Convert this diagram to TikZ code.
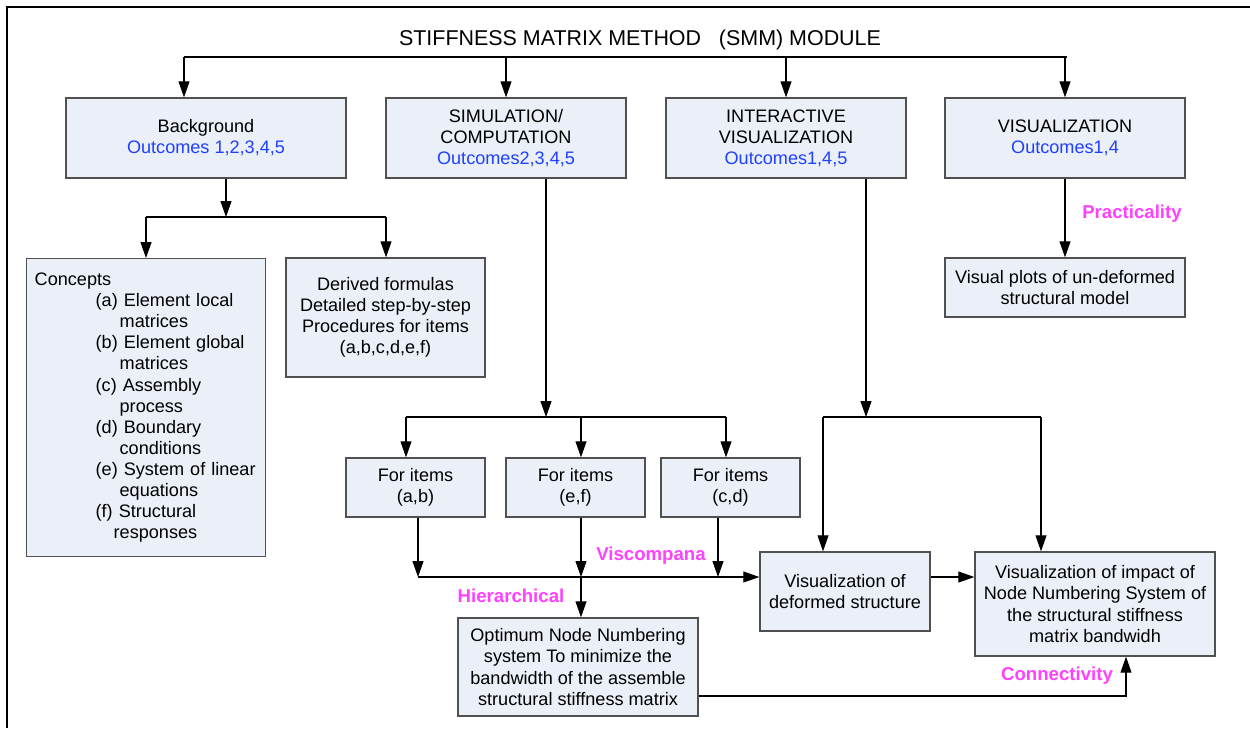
\documentclass[tikz,border=0pt]{standalone}
\usepackage{fontspec}
\setmainfont{Liberation Sans}
\usetikzlibrary{arrows.meta}
\definecolor{boxfill}{RGB}{234,239,248}
\definecolor{boxline}{RGB}{80,80,80}
\definecolor{outblue}{RGB}{32,64,255}
\definecolor{tagpink}{RGB}{255,64,255}
\tikzstyle{block} = [rectangle, draw=boxline, line width=0.8pt, fill=boxfill,
    align=center, inner sep=2pt, font=\fontsize{10.3}{12}\selectfont]
\tikzstyle{line} = [draw, line width=0.6pt, -{Triangle[length=0.32cm,width=0.22cm]}]
\tikzstyle{wire} = [draw, line width=0.6pt]
\tikzstyle{tag} = [text=tagpink, font=\fontsize{10.6}{12}\selectfont\bfseries]
\newcommand{\outc}[1]{\textcolor{outblue}{#1}}

\begin{document}
\begin{tikzpicture}[x=0.02cm, y=-0.02cm]
  \useasboundingbox (0,0) rectangle (1250,728);
  \draw[line width=1.1pt] (1250,7) -- (7,7) -- (7,728);
   % Place nodes
    \node [font=\fontsize{12.2}{14}\selectfont] (title) at (640,40) {STIFFNESS MATRIX METHOD\ \ \ (SMM) MODULE};
    \node [block, minimum width=5.6cm, minimum height=1.6cm] (bg) at (206,138) {Background\\\outc{Outcomes 1,2,3,4,5}};
    \node [block, minimum width=4.8cm, minimum height=1.6cm] (sim) at (506,138) {SIMULATION/\\COMPUTATION\\\outc{Outcomes2,3,4,5}};
    \node [block, minimum width=4.8cm, minimum height=1.6cm] (inter) at (786,138) {INTERACTIVE\\VISUALIZATION\\\outc{Outcomes1,4,5}};
    \node [block, minimum width=4.8cm, minimum height=1.6cm] (vis) at (1065,138) {VISUALIZATION\\\outc{Outcomes1,4}};
    \node [block, minimum width=4.8cm, minimum height=1.18cm] (plots) at (1065,287.5) {Visual plots of un-deformed\\structural model};
    \node [block, anchor=north west, align=left, text width=4.46cm, inner xsep=0.16cm, minimum height=5.96cm] (concepts) at (26,258)
      {Concepts\\
       \hspace*{1.22cm}(a) Element local\\ \hspace*{1.7cm}matrices\\
       \hspace*{1.22cm}(b) Element global\\ \hspace*{1.7cm}matrices\\
       \hspace*{1.22cm}(c) Assembly\\ \hspace*{1.7cm}process\\
       \hspace*{1.22cm}(d) Boundary\\ \hspace*{1.7cm}conditions\\
       \hspace*{1.22cm}(e) System of linear\\ \hspace*{1.7cm}equations\\
       \hspace*{1.22cm}(f) Structural\\ \hspace*{1.58cm}responses};
    \node [block, minimum width=3.98cm, minimum height=2.38cm] (derived) at (385.5,317.5) {Derived formulas\\Detailed step-by-step\\Procedures for items\\(a,b,c,d,e,f)};
    \node [block, minimum width=2.78cm, minimum height=1.18cm] (ab) at (415.5,487.5) {For items\\(a,b)};
    \node [block, minimum width=2.78cm, minimum height=1.18cm] (ef) at (575.5,487.5) {For items\\(e,f)};
    \node [block, minimum width=2.78cm, minimum height=1.18cm] (cd) at (730.5,487.5) {For items\\(c,d)};
    \node [block, minimum width=3.4cm, minimum height=1.58cm] (deformed) at (845,591.5) {Visualization of\\deformed structure};
    \node [block, minimum width=4.8cm, minimum height=2.08cm] (impact) at (1095,604) {Visualization of impact of\\Node Numbering System of\\the structural stiffness\\matrix bandwidh};
    \node [block, minimum width=4.8cm, minimum height=1.96cm] (opt) at (578,667) {Optimum Node Numbering\\system To minimize the\\bandwidth of the assemble\\structural stiffness matrix};
   % Labels
    \node [tag] (practicality) at (1132,214) {Practicality};
    \node [tag] (viscompana) at (651,556) {Viscompana};
    \node [tag] (hierarchical) at (511,596) {Hierarchical};
    \node [tag] (connectivity) at (1057,676) {Connectivity};
   % Branch points
    \coordinate (t1) at (184,57);
    \coordinate (t4) at (1067,57);
    \coordinate (b0) at (226,217);
    \coordinate (b1) at (146,217);
    \coordinate (b2) at (386,217);
    \coordinate (s0) at (546,417);
    \coordinate (s1) at (406,417);
    \coordinate (s2) at (581,417);
    \coordinate (s3) at (726,417);
    \coordinate (i0) at (866,417);
    \coordinate (i1) at (823,417);
    \coordinate (i2) at (1041,417);
    \coordinate (m1) at (418,577);
    \coordinate (m2) at (581,577);
    \coordinate (m3) at (718,577);
    \coordinate (o1) at (1126,696);
   % Draw edges
    \path [wire] (t1) -- (t4);
    \path [line] (t1) -- (t1 |- bg.north);
    \path [line] (sim.north |- t1) -- (sim.north);
    \path [line] (inter.north |- t1) -- (inter.north);
    \path [line] (vis.north |- t1) -- (vis.north);
    \path [line] (vis) -- (plots);
    \path [line] (b0 |- bg.south) -- (b0);
    \path [wire] (b1) -- (b2);
    \path [line] (b1) -- (concepts.north -| b1);
    \path [line] (b2) -- (derived.north -| b2);
    \path [line] (s0 |- sim.south) -- (s0);
    \path [wire] (s1) -- (s3);
    \path [line] (s1) -- (ab.north -| s1);
    \path [line] (s2) -- (ef.north -| s2);
    \path [line] (s3) -- (cd.north -| s3);
    \path [line] (i0 |- inter.south) -- (i0);
    \path [wire] (i1) -- (i2);
    \path [line] (i1) -- (deformed.north -| i1);
    \path [line] (i2) -- (impact.north -| i2);
    \path [line] (m1 |- ab.south) -- (m1);
    \path [line] (m2 |- ef.south) -- (m2);
    \path [line] (m3 |- cd.south) -- (m3);
    \path [line] (m1) -- (m1 -| deformed.west);
    \path [line] (m2) -- (opt.north -| m2);
    \path [line] (m1 -| deformed.east) -- (m1 -| impact.west);
    \path [line] (opt.east |- o1) -- (o1) -- (impact.south -| o1);
\end{tikzpicture}
\end{document}
